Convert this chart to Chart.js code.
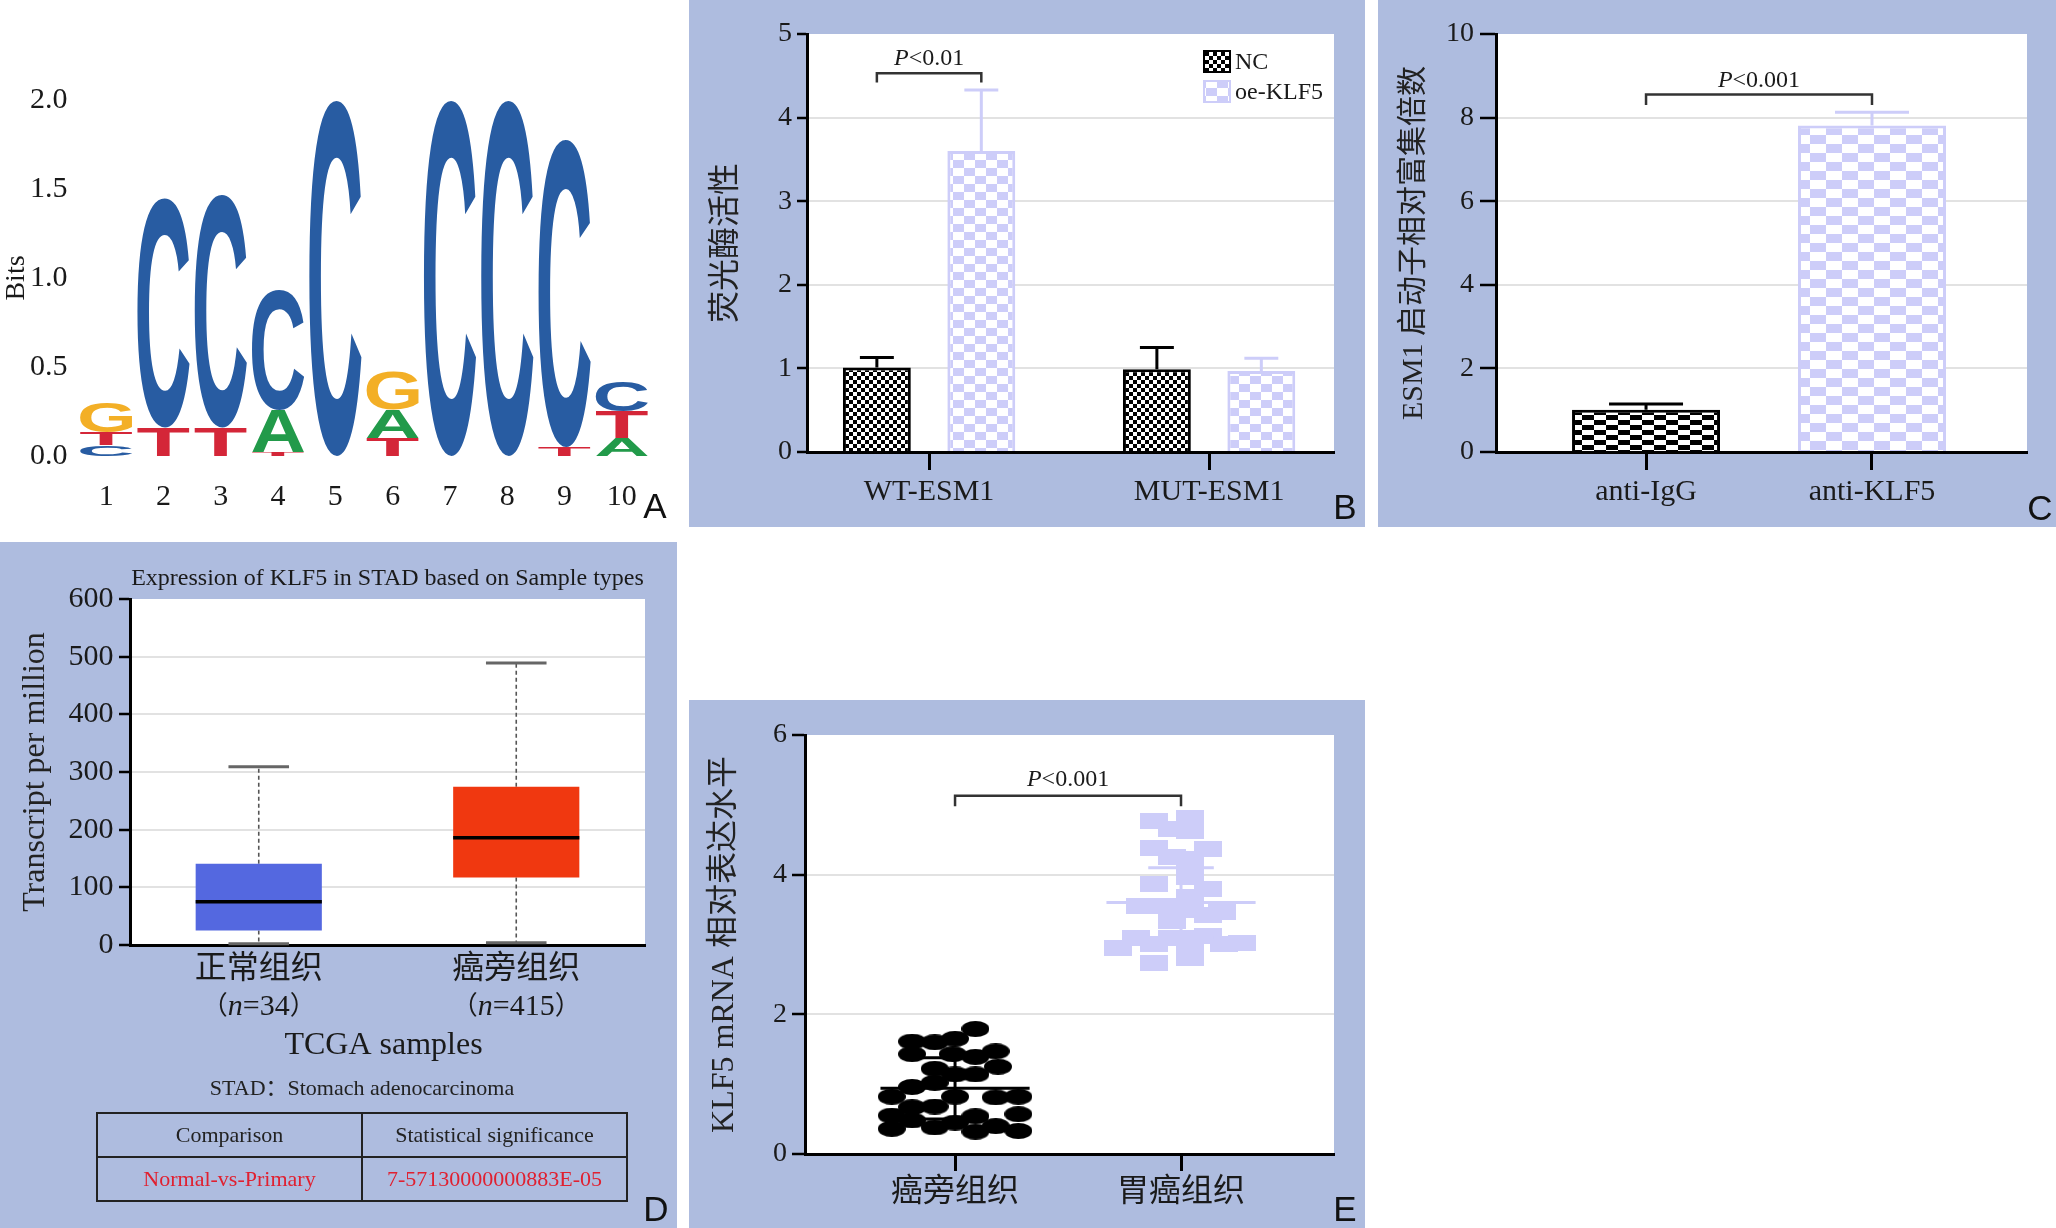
<!DOCTYPE html>
<html><head><meta charset="utf-8">
<script src="https://cdn.jsdelivr.net/npm/chart.js@4.4.1/dist/chart.umd.min.js"></script>
<style>
html,body{margin:0;padding:0;background:#fff}
body{width:2056px;height:1228px;position:relative;overflow:hidden}
.panel{position:absolute;overflow:hidden}
.blue{background:rgb(174,188,223)}
canvas{display:block}
.tag{position:absolute;font-family:'Liberation Sans',Arial,sans-serif;font-size:35px;line-height:35px;color:#111;transform:translate(-50%,-50%)}
#stad{position:absolute;left:96px;width:532px;top:1074px;text-align:center;font-size:22px;line-height:28px;font-family:'Liberation Serif','Noto Sans CJK SC',serif;color:#222}
#tbl{position:absolute;left:96px;top:1112px;width:532px;height:88px;border-collapse:collapse;font-family:'Liberation Serif',serif;font-size:22px;color:#222}
#tbl td{border:2px solid #222;text-align:center;height:42px;width:50%;padding:0}
#tbl tr.red td{color:rgb(224,32,48)}
</style></head>
<body>
<div class="panel" style="left:0;top:0;width:689px;height:541px"><canvas id="cA" width="689" height="541"></canvas></div>
<div class="panel blue" style="left:689px;top:0;width:676px;height:527px"><canvas id="cB" width="676" height="527"></canvas></div>
<div class="panel blue" style="left:1378px;top:0;width:678px;height:527px"><canvas id="cC" width="678" height="527"></canvas></div>
<div class="panel blue" style="left:0;top:542px;width:677px;height:687px"><canvas id="cD" width="677" height="687"></canvas></div>
<div class="panel blue" style="left:689px;top:700px;width:676px;height:529px"><canvas id="cE" width="676" height="529"></canvas></div>
<div id="stad"></div>
<table id="tbl"><tr id="thead"></tr><tr class="red" id="trow"></tr></table>
<div class="tag" style="left:655px;top:505px">A</div>
<div class="tag" style="left:1345px;top:506px">B</div>
<div class="tag" style="left:2040px;top:507px">C</div>
<div class="tag" style="left:656px;top:1208px">D</div>
<div class="tag" style="left:1345px;top:1208px">E</div>
<script>
// ---------------- DATA ----------------
// Panel A: sequence logo (bits per letter, stacked bottom -> top)
const A_positions = ['1','2','3','4','5','6','7','8','9','10'];
const A_layer1Letters = ['C','T','T','T','C','T','C','C','T','A'];
const A_layer1Bits    = [0.06,0.16,0.16,0.02,2.00,0.10,2.00,2.00,0.05,0.10];
const A_layer2Letters = ['T','C','C','A','','A','','','C','T'];
const A_layer2Bits    = [0.07,1.29,1.31,0.24,0,0.16,0,0,1.73,0.15];
const A_layer3Letters = ['G','','','C','','G','','','','C'];
const A_layer3Bits    = [0.17,0,0,0.67,0,0.21,0,0,0,0.17];
const A_yTicks = [0,0.5,1,1.5,2];

// Panel B: luciferase activity
const B_cats = ['WT-ESM1','MUT-ESM1'];
const B_series = ['NC','oe-KLF5'];
const B_nc = [1.01,0.99];
const B_ncErr = [0.12,0.26];
const B_oe = [3.60,0.97];
const B_oeErr = [0.73,0.15];
const B_pText = 'P<0.01';
const B_pLevels = [4.53,4.42,4.71]; // bracket line, bracket ends, text

// Panel C: ChIP enrichment
const C_cats = ['anti-IgG','anti-KLF5'];
const C_vals = [1.01,7.81];
const C_err = [0.14,0.32];
const C_pText = 'P<0.001';
const C_pLevels = [8.55,8.30,8.89];

// Panel D: TCGA boxplot
const D_title = 'Expression of KLF5 in STAD based on Sample types';
const D_cats = ['正常组织','癌旁组织'];
const D_n = ['34','415'];
const D_min = [2,4];
const D_q1 = [25,117];
const D_med = [75,186];
const D_q3 = [141,274.5];
const D_max = [309,489];
const D_xTitle = 'TCGA samples';
const D_sub = 'STAD：Stomach adenocarcinoma';
const D_tableHead = ['Comparison','Statistical significance'];
const D_tableRow = ['Normal-vs-Primary','7-57130000000883E-05'];

// Panel E: KLF5 mRNA scatter
const E_cats = ['癌旁组织','胃癌组织'];
const E_g1_x = [0.09,-0.19,-0.09,0.00,-0.19,-0.01,0.09,0.18,-0.09,0.00,0.09,0.19,-0.19,-0.09,-0.28,0.00,0.18,0.28,-0.19,-0.09,-0.28,0.09,0.28,-0.19,0.00,-0.28,-0.09,0.09,0.18,0.28];
const E_g1_y = [1.79,1.61,1.60,1.65,1.43,1.43,1.39,1.47,1.22,1.14,1.14,1.25,0.96,1.02,0.82,0.82,0.81,0.82,0.67,0.68,0.55,0.54,0.57,0.48,0.45,0.36,0.38,0.32,0.40,0.33];
const E_g2_x = [0.88,1.04,0.96,1.04,0.88,1.12,0.96,1.04,1.04,0.88,1.12,1.04,0.82,0.92,1.04,1.18,1.12,0.96,0.80,0.88,0.96,1.12,1.19,1.27,0.72,1.04,0.88,1.04,1.04];
const E_g2_y = [4.77,4.81,4.65,4.63,4.38,4.37,4.26,4.22,3.96,3.86,3.80,3.68,3.55,3.55,3.49,3.47,3.42,3.33,3.09,3.01,3.09,3.12,3.01,3.02,2.95,2.89,2.73,2.81,3.10];
const E_mean = [0.94,3.60];
const E_sd = [0.44,0.50];
const E_pText = 'P<0.001';
const E_pLevels = [5.13,4.98,5.36];

// ---------------- STYLE ----------------
const SERIF = "'Liberation Serif','Noto Sans CJK SC',serif";
const SANS = "'Liberation Sans',Arial,sans-serif";
const INK = '#1a1a1a';
const LAV = 'rgb(205,205,249)';
const GRID = '#e2e2e2';
const LETTER_COL = {C:'rgb(40,92,162)', G:'rgb(243,175,38)', T:'rgb(212,38,56)', A:'rgb(34,154,74)'};

Chart.defaults.animation = false;
Chart.defaults.events = [];
Chart.defaults.plugins.legend.display = false;
Chart.defaults.plugins.tooltip.enabled = false;

function checker(ctx, c1, c2, cw, ch){
  const cv = document.createElement('canvas'); cv.width = cw*2; cv.height = ch*2;
  const g = cv.getContext('2d');
  g.fillStyle = c2; g.fillRect(0,0,cw*2,ch*2);
  g.fillStyle = c1; g.fillRect(0,0,cw,ch); g.fillRect(cw,ch,cw,ch);
  return ctx.createPattern(cv,'repeat');
}
function shapeImg(w,h,color,ellipse){
  const c = document.createElement('canvas'); c.width = w; c.height = h;
  const g = c.getContext('2d'); g.fillStyle = color;
  if (ellipse){ g.beginPath(); g.ellipse(w/2,h/2,w/2,h/2,0,0,Math.PI*2); g.fill(); }
  else g.fillRect(0,0,w,h);
  return c;
}
const gridFn = (max) => (c) => (c.tick && (c.tick.value === 0 || c.tick.value === max)) ? 'rgba(0,0,0,0)' : GRID;

const whiteArea = {id:'whiteArea', beforeDraw(chart){
  const {ctx, chartArea:a} = chart; ctx.save(); ctx.fillStyle = '#fff';
  ctx.fillRect(a.left, a.top, a.right-a.left, a.bottom-a.top); ctx.restore();
}};

const errPlugin = {id:'errBars', afterDatasetsDraw(chart){
  const ctx = chart.ctx, ys = chart.scales.y;
  chart.data.datasets.forEach((ds, di) => {
    if (!ds.errors) return;
    chart.getDatasetMeta(di).data.forEach((el, i) => {
      const v = ds.data[i].y, e = ds.errors[i];
      const yT = ys.getPixelForValue(v + e);
      ctx.save();
      ctx.strokeStyle = Array.isArray(ds.errorColor) ? ds.errorColor[i] : ds.errorColor;
      ctx.lineWidth = 3;
      ctx.beginPath(); ctx.moveTo(el.x, el.y); ctx.lineTo(el.x, yT);
      ctx.moveTo(el.x - el.width/4, yT); ctx.lineTo(el.x + el.width/4, yT);
      ctx.stroke(); ctx.restore();
    });
  });
}};

function drawP(ctx, text, cx, cy, size){
  const first = text.charAt(0), rest = text.slice(1);
  ctx.save(); ctx.textBaseline = 'middle'; ctx.textAlign = 'left'; ctx.fillStyle = INK;
  ctx.font = 'italic ' + size + 'px ' + SERIF; const wP = ctx.measureText(first).width;
  ctx.font = size + 'px ' + SERIF; const wR = ctx.measureText(rest).width;
  const x = cx - (wP + wR)/2;
  ctx.font = 'italic ' + size + 'px ' + SERIF; ctx.fillText(first, x, cy);
  ctx.font = size + 'px ' + SERIF; ctx.fillText(rest, x + wP, cy);
  ctx.restore();
}
function bracket(getXs, levels, text){
  return {id:'bracket', afterDatasetsDraw(chart){
    const [x1, x2] = getXs(chart); const ys = chart.scales.y; const ctx = chart.ctx;
    const yl = ys.getPixelForValue(levels[0]), ye = ys.getPixelForValue(levels[1]), yt = ys.getPixelForValue(levels[2]);
    ctx.save(); ctx.strokeStyle = '#333'; ctx.lineWidth = 2.5;
    ctx.beginPath(); ctx.moveTo(x1, ye); ctx.lineTo(x1, yl); ctx.lineTo(x2, yl); ctx.lineTo(x2, ye); ctx.stroke();
    ctx.restore();
    drawP(ctx, text, (x1+x2)/2, yt, 24);
  }};
}
const catTicks = (cats) => (axis) => { axis.ticks = cats.map((c,i) => ({value:i})); };

// ---------------- PANEL A ----------------
const logoPlugin = {id:'logo', afterDatasetsDraw(chart){
  const ctx = chart.ctx;
  chart.data.datasets.forEach((ds, di) => {
    chart.getDatasetMeta(di).data.forEach((el, i) => {
      const L = ds.letters[i]; const h = el.base - el.y;
      if (!L || h < 0.5) return;
      const w = el.width;
      ctx.save();
      ctx.font = 'bold 200px ' + SANS; ctx.textBaseline = 'alphabetic'; ctx.textAlign = 'left';
      const m = ctx.measureText(L);
      const gl = -m.actualBoundingBoxLeft, gr = m.actualBoundingBoxRight;
      const gt = -m.actualBoundingBoxAscent, gb = m.actualBoundingBoxDescent;
      ctx.translate(el.x - w/2, el.y);
      ctx.scale(w/(gr-gl), h/(gb-gt));
      ctx.fillStyle = LETTER_COL[L];
      ctx.fillText(L, -gl, -gt);
      ctx.restore();
    });
  });
}};
const A_layers = [[A_layer1Bits,A_layer1Letters],[A_layer2Bits,A_layer2Letters],[A_layer3Bits,A_layer3Letters]];
new Chart(document.getElementById('cA'), {
  type:'bar',
  data:{labels:A_positions, datasets:A_layers.map(([d,l]) => ({data:d, letters:l, backgroundColor:'rgba(0,0,0,0)', borderWidth:0, categoryPercentage:1, barPercentage:0.91}))},
  options:{responsive:false,
    layout:{padding:{left:0,right:38.5,top:100,bottom:0}},
    scales:{
      x:{stacked:true, grid:{display:false}, border:{display:false},
         ticks:{font:{family:SERIF,size:30}, color:INK, padding:15, maxRotation:0, autoSkip:false},
         afterFit:s=>{s.height=85;}},
      y:{stacked:true, min:0, max:2, grid:{display:false}, border:{display:false},
         afterBuildTicks:(a)=>{a.ticks = A_yTicks.map(v=>({value:v}));},
         ticks:{font:{family:SERIF,size:30}, color:INK, padding:2, callback:v=>Number(v).toFixed(1)},
         title:{display:true, text:'Bits', font:{family:SERIF,size:28}, color:INK, padding:{top:0,bottom:0}},
         afterFit:s=>{s.width=77.5;}}
    }},
  plugins:[logoPlugin]
});

// ---------------- PANEL B ----------------
const ctxB = document.getElementById('cB').getContext('2d');
const patB_nc = checker(ctxB, '#000', '#fff', 4, 4);
const patB_oe = checker(ctxB, LAV, '#fff', 11, 8);
const legendB = {id:'legendB', afterDraw(chart){
  const {ctx, chartArea:a} = chart;
  chart.data.datasets.forEach((ds, i) => {
    const bx = a.right - 131, by = a.top + 16 + i*30, bw = 28, bh = 23;
    ctx.save(); ctx.fillStyle = ds.backgroundColor; ctx.fillRect(bx,by,bw,bh);
    ctx.strokeStyle = ds.borderColor; ctx.lineWidth = 2; ctx.strokeRect(bx+1,by+1,bw-2,bh-2);
    ctx.fillStyle = INK; ctx.font = '24px ' + SERIF; ctx.textBaseline = 'middle'; ctx.textAlign = 'left';
    ctx.fillText(ds.label, bx + bw + 4, by + bh/2 + 1);
    ctx.restore();
  });
}};
new Chart(ctxB, {
  type:'bar',
  data:{datasets:[
    {label:B_series[0], data:B_nc.map((v,i)=>({x:i,y:v})), errors:B_ncErr, errorColor:'#000',
     backgroundColor:patB_nc, borderColor:'#000', borderWidth:3, categoryPercentage:0.746, barPercentage:0.65},
    {label:B_series[1], data:B_oe.map((v,i)=>({x:i,y:v})), errors:B_oeErr, errorColor:LAV,
     backgroundColor:patB_oe, borderColor:LAV, borderWidth:3, categoryPercentage:0.746, barPercentage:0.65}
  ]},
  options:{responsive:false,
    layout:{padding:{left:0,right:31,top:34,bottom:0}},
    scales:{
      x:{type:'linear', min:-0.436, max:1.446, offset:false, afterBuildTicks:catTicks(B_cats),
         ticks:{callback:v=>B_cats[v], font:{family:SERIF,size:30}, color:INK, padding:4, maxRotation:0, autoSkip:false},
         grid:{offset:false, drawOnChartArea:false, tickLength:18, tickColor:'#000', tickWidth:3},
         border:{color:'#000', width:3}, afterFit:s=>{s.height=75;}},
      y:{min:0, max:5, ticks:{stepSize:1, font:{family:SERIF,size:28}, color:INK, padding:5},
         grid:{color:gridFn(5), lineWidth:2, tickLength:10, tickColor:'#000', tickWidth:2.5},
         border:{color:'#000', width:3},
         title:{display:true, text:'荧光酶活性', font:{family:SERIF,size:32}, color:'#222', padding:{top:18.8,bottom:0}},
         afterFit:s=>{s.width=118;}}
    }},
  plugins:[whiteArea, errPlugin, bracket(ch=>[ch.getDatasetMeta(0).data[0].x, ch.getDatasetMeta(1).data[0].x], B_pLevels, B_pText), legendB]
});

// ---------------- PANEL C ----------------
const ctxC = document.getElementById('cC').getContext('2d');
const patC_nc = checker(ctxC, '#000', '#fff', 12, 5);
const patC_oe = checker(ctxC, LAV, '#fff', 16, 9);
new Chart(ctxC, {
  type:'bar',
  data:{datasets:[
    {data:C_vals.map((v,i)=>({x:i,y:v})), errors:C_err, errorColor:['#000',LAV],
     backgroundColor:[patC_nc, patC_oe], borderColor:['#000',LAV], borderWidth:3, categoryPercentage:1, barPercentage:0.655}
  ]},
  options:{responsive:false,
    layout:{padding:{left:0,right:29,top:34,bottom:0}},
    scales:{
      x:{type:'linear', min:-0.664, max:1.686, offset:false, afterBuildTicks:catTicks(C_cats),
         ticks:{callback:v=>C_cats[v], font:{family:SERIF,size:30}, color:INK, padding:4, maxRotation:0, autoSkip:false},
         grid:{offset:false, drawOnChartArea:false, tickLength:18, tickColor:'#000', tickWidth:3},
         border:{color:'#000', width:3}, afterFit:s=>{s.height=75;}},
      y:{min:0, max:10, ticks:{stepSize:2, font:{family:SERIF,size:28}, color:INK, padding:6},
         grid:{color:gridFn(10), lineWidth:2, tickLength:16, tickColor:'#000', tickWidth:2.5},
         border:{color:'#000', width:3},
         title:{display:true, text:'ESM1 启动子相对富集倍数', font:{family:SERIF,size:30}, color:'#222', padding:{top:18,bottom:0}},
         afterFit:s=>{s.width=118;}}
    }},
  plugins:[whiteArea, errPlugin, bracket(ch=>[ch.scales.x.getPixelForValue(0), ch.scales.x.getPixelForValue(1)], C_pLevels, C_pText)]
});

// ---------------- PANEL D ----------------
const boxPlugin = {id:'box',
  beforeDatasetsDraw(chart){
    const ctx = chart.ctx, ys = chart.scales.y;
    chart.getDatasetMeta(0).data.forEach((el, i) => {
      const yMax = ys.getPixelForValue(D_max[i]), yMin = ys.getPixelForValue(D_min[i]);
      const yQ3 = ys.getPixelForValue(D_q3[i]), yQ1 = ys.getPixelForValue(D_q1[i]);
      ctx.save(); ctx.strokeStyle = '#555'; ctx.lineWidth = 1.6; ctx.setLineDash([4,3]);
      ctx.beginPath(); ctx.moveTo(el.x, yQ3); ctx.lineTo(el.x, yMax); ctx.moveTo(el.x, yQ1); ctx.lineTo(el.x, yMin); ctx.stroke();
      ctx.setLineDash([]); ctx.strokeStyle = '#666'; ctx.lineWidth = 3;
      const hw = el.width*0.24;
      ctx.beginPath(); ctx.moveTo(el.x-hw, yMax); ctx.lineTo(el.x+hw, yMax); ctx.moveTo(el.x-hw, yMin); ctx.lineTo(el.x+hw, yMin); ctx.stroke();
      ctx.restore();
    });
  },
  afterDatasetsDraw(chart){
    const ctx = chart.ctx, ys = chart.scales.y;
    chart.getDatasetMeta(0).data.forEach((el, i) => {
      const y = ys.getPixelForValue(D_med[i]);
      ctx.save(); ctx.strokeStyle = '#000'; ctx.lineWidth = 3.5;
      ctx.beginPath(); ctx.moveTo(el.x - el.width/2, y); ctx.lineTo(el.x + el.width/2, y); ctx.stroke(); ctx.restore();
    });
  },
  afterDraw(chart){
    const {ctx, chartArea:a} = chart; const xs = chart.scales.x;
    ctx.save(); ctx.fillStyle = INK; ctx.textBaseline = 'middle'; ctx.textAlign = 'center';
    ctx.font = '24px ' + SERIF; ctx.fillText(D_title, (a.left+a.right)/2, a.top - 20);
    D_cats.forEach((c, i) => {
      const x = xs.getPixelForTick(i);
      ctx.textAlign = 'center'; ctx.font = '32px ' + SERIF; ctx.fillText(c, x, a.bottom + 25);
      const parts = [['（', '26px ' + SERIF], ['n', 'italic 30px ' + SERIF], ['=' + D_n[i], '30px ' + SERIF], ['）', '26px ' + SERIF]];
      let tw = 0; parts.forEach(p => { ctx.font = p[1]; p.push(ctx.measureText(p[0]).width); tw += p[2]; });
      let px = x - tw/2; ctx.textAlign = 'left';
      parts.forEach(p => { ctx.font = p[1]; ctx.fillText(p[0], px, a.bottom + 62); px += p[2]; });
    });
    ctx.textAlign = 'center'; ctx.font = '32px ' + SERIF;
    ctx.fillText(D_xTitle, (a.left+a.right)/2 - 4, a.bottom + 101);
    ctx.restore();
  }
};
new Chart(document.getElementById('cD'), {
  type:'bar',
  data:{labels:D_cats, datasets:[{data:D_q1.map((q,i)=>[q, D_q3[i]]), backgroundColor:['rgb(84,104,224)','rgb(240,56,16)'], borderWidth:0, categoryPercentage:1, barPercentage:0.49}]},
  options:{responsive:false,
    layout:{padding:{left:0,right:32,top:57,bottom:0}},
    scales:{
      x:{grid:{display:false}, ticks:{display:false}, border:{color:'#000', width:3}, afterFit:s=>{s.height=284;}},
      y:{min:0, max:600, ticks:{stepSize:100, font:{family:SERIF,size:30}, color:INK, padding:5.5},
         grid:{color:gridFn(600), lineWidth:2, tickLength:11, tickColor:'#000', tickWidth:2.5},
         border:{color:'#000', width:3},
         title:{display:true, text:'Transcript per million', font:{family:SERIF,size:32}, color:'#222', padding:{top:16,bottom:0}},
         afterFit:s=>{s.width=130;}}
    }},
  plugins:[whiteArea, boxPlugin]
});
document.getElementById('stad').textContent = D_sub;
document.getElementById('thead').innerHTML = D_tableHead.map(t=>'<td>'+t+'</td>').join('');
document.getElementById('trow').innerHTML = D_tableRow.map(t=>'<td>'+t+'</td>').join('');

// ---------------- PANEL E ----------------
const E_lineColors = ['#000', LAV];
const meanSd = {id:'meanSd', afterDatasetsDraw(chart){
  const ctx = chart.ctx, xs = chart.scales.x, ys = chart.scales.y;
  E_mean.forEach((m, i) => {
    const ym = ys.getPixelForValue(m), yu = ys.getPixelForValue(m + E_sd[i]), yl = ys.getPixelForValue(m - E_sd[i]);
    const X = v => xs.getPixelForValue(i + v);
    ctx.save(); ctx.strokeStyle = E_lineColors[i]; ctx.lineWidth = 3;
    ctx.beginPath();
    ctx.moveTo(X(-0.33), ym); ctx.lineTo(X(0.33), ym);
    ctx.moveTo(X(0), yu); ctx.lineTo(X(0), yl);
    ctx.moveTo(X(-0.145), yu); ctx.lineTo(X(0.145), yu);
    ctx.moveTo(X(-0.145), yl); ctx.lineTo(X(0.145), yl);
    ctx.stroke(); ctx.restore();
  });
}};
new Chart(document.getElementById('cE'), {
  type:'scatter',
  data:{datasets:[
    {data:E_g1_x.map((x,i)=>({x:x, y:E_g1_y[i]})), pointStyle:shapeImg(28,16,'#000',true), pointRadius:8},
    {data:E_g2_x.map((x,i)=>({x:x, y:E_g2_y[i]})), pointStyle:shapeImg(28,16,LAV,false), pointRadius:8}
  ]},
  options:{responsive:false,
    layout:{padding:{left:0,right:31,top:35,bottom:0}},
    scales:{
      x:{type:'linear', min:-0.664, max:1.677, offset:false, afterBuildTicks:catTicks(E_cats),
         ticks:{callback:v=>E_cats[v], font:{family:SERIF,size:32}, color:INK, padding:2, maxRotation:0, autoSkip:false},
         grid:{offset:false, drawOnChartArea:false, tickLength:17, tickColor:'#000', tickWidth:3},
         border:{color:'#000', width:3}, afterFit:s=>{s.height=75;}},
      y:{min:0, max:6, ticks:{stepSize:2, font:{family:SERIF,size:28}, color:INK, padding:5},
         grid:{color:gridFn(6), lineWidth:2, tickLength:13, tickColor:'#000', tickWidth:2.5},
         border:{color:'#000', width:3},
         title:{display:true, text:'KLF5 mRNA 相对表达水平', font:{family:SERIF,size:32}, color:'#222', padding:{top:16.8,bottom:0}},
         afterFit:s=>{s.width=116;}}
    }},
  plugins:[whiteArea, meanSd, bracket(ch=>[ch.scales.x.getPixelForValue(0), ch.scales.x.getPixelForValue(1)], E_pLevels, E_pText)]
});
</script>
</body></html>
